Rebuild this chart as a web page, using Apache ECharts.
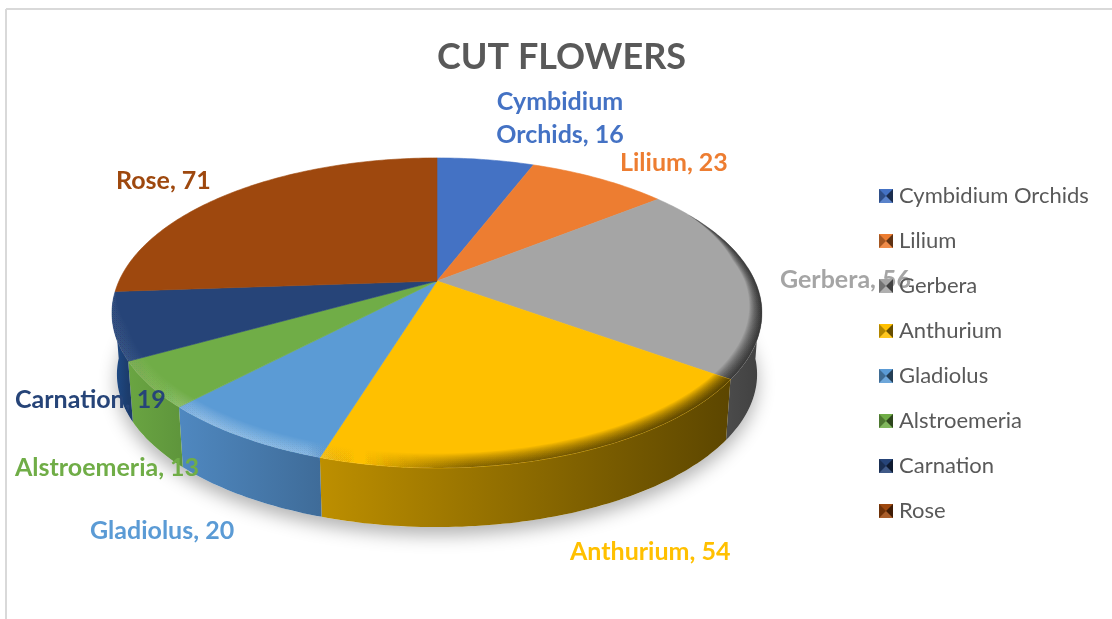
<!DOCTYPE html>
<html>
<head>
<meta charset="utf-8">
<title>CUT FLOWERS</title>
<script src="https://cdn.jsdelivr.net/npm/echarts@6/dist/echarts.min.js"></script>
<style>
html, body { margin: 0; padding: 0; background: #fff; }
#chart { width: 1112px; height: 619px; }
</style>
</head>
<body>
<div id="chart"></div>
<script>
// data
const flowerNames = ["Cymbidium Orchids", "Lilium", "Gerbera", "Anthurium", "Gladiolus", "Alstroemeria", "Carnation", "Rose"];
const flowerValues = [16, 23, 56, 54, 20, 13, 19, 71];

// colours
const topColors = ["#4472c4", "#ed7d31", "#a5a5a5", "#ffc000", "#5b9bd5", "#70ad47", "#264478", "#9e480e"];
const wallLeft = ["#30528c", "#a85822", "#4a4a4a", "#bd8f00", "#4f88c0", "#6aa542", "#1f4e8c", "#70330a"];
const wallRight = ["#30528c", "#a85822", "#404040", "#5c4600", "#3f6c99", "#5f963c", "#1c3c6c", "#70330a"];

// label anchors: [x, y, align]
const labelAnchors = [
    [560, 118, "center"], [620, 163, "left"], [780, 280, "left"], [570, 552, "left"],
    [90, 531, "left"], [15, 468, "left"], [15, 400, "left"], [116, 181, "left"]
];

// the tilted pie: a circle seen through a perspective, apex at (cx, cy)
const cx = 437, cy = 281, radA = 318, radB = 148.4, persp = -0.206;
const depth = 62, bottomScale = 0.985;
const total = flowerValues.reduce((a, b) => a + b, 0);

function project(angle, r, dy, scale) {
    const u = r * Math.sin(angle), v = -r * Math.cos(angle), w = 1 + persp * v;
    return [cx + radA * u / w * scale, cy + radB * v / w * scale + dy];
}

function startAngle(index) {
    let sum = 0;
    for (let i = 0; i < index; i++) sum += flowerValues[i];
    return sum / total * Math.PI * 2;
}

function samples(a0, a1) {
    const out = [];
    const n = Math.max(2, Math.ceil((a1 - a0) / (Math.PI / 180)));
    for (let i = 0; i <= n; i++) out.push(a0 + (a1 - a0) * i / n);
    return out;
}

function hGradient(stops) {
    return { type: "linear", x: 112, y: 0, x2: 762, y2: 0, global: true, colorStops: stops };
}

// rim bevel: wider at the front, gone at the back, reaches further back on the right
function bevelWidth(angle) {
    const u = Math.sin(angle), v = -Math.cos(angle);
    const from = u > 0 ? -0.5 : 0.05, span = u > 0 ? 0.35 : 0.25;
    const taper = Math.max(0, Math.min(1, (v - from) / span));
    return taper * (0.032 + 0.03 * Math.max(v, 0));
}

function renderSlice(index) {
    return function (params, api) {
        const a0 = startAngle(index);
        const a1 = a0 + api.value(0) / total * Math.PI * 2;
        const angles = samples(a0, a1);
        const children = [];

        // side wall, front part only
        const front = angles.filter(a => -Math.cos(a) > 0.1);
        if (front.length > 1) {
            const pts = front.map(a => project(a, 1, 0, 1));
            const low = front.slice().reverse().map(a => project(a, 1, depth, bottomScale));
            const xs = pts.map(p => p[0]);
            children.push({
                type: "polygon",
                shape: { points: pts.concat(low) },
                style: {
                    fill: {
                        type: "linear", global: true, y: 0, y2: 0,
                        x: Math.min.apply(null, xs), x2: Math.max.apply(null, xs),
                        colorStops: [{ offset: 0, color: wallLeft[index] }, { offset: 1, color: wallRight[index] }]
                    }
                }
            });
        }

        // top face
        children.push({
            type: "polygon",
            shape: { points: [[cx, cy]].concat(angles.map(a => project(a, 1, 0, 1))) },
            style: { fill: topColors[index], stroke: topColors[index], lineWidth: 0.6 }
        });

        // bevel: stacked see-through bands getting narrower towards the rim
        const bands = 16;
        for (let j = 1; j <= bands; j++) {
            const part = j / bands;
            const outer = angles.map(a => project(a, 1, 0, 1));
            const inner = angles.slice().reverse().map(a => project(a, 1 - bevelWidth(a) * part, 0, 1));
            children.push({
                type: "polygon",
                shape: { points: outer.concat(inner) },
                style: {
                    fill: hGradient([
                        { offset: 0, color: "rgba(255,255,255,0.004)" },
                        { offset: 0.08, color: "rgba(255,255,255,0.008)" },
                        { offset: 0.14, color: "rgba(255,255,255,0.022)" },
                        { offset: 0.3, color: "rgba(255,255,255,0.018)" },
                        { offset: 0.38, color: "rgba(0,0,0,0.0)" },
                        { offset: 0.55, color: "rgba(0,0,0,0.04)" },
                        { offset: 1, color: "rgba(0,0,0,0.065)" }
                    ])
                }
            });
        }
        return { type: "group", children: children };
    };
}

function renderShadow() {
    const ring = samples(0, Math.PI * 2).map(a => project(a, 1, depth, bottomScale));
    return {
        type: "polygon",
        shape: { points: ring },
        style: { fill: "#fff", shadowBlur: 18, shadowOffsetY: 8, shadowColor: "rgba(0,0,0,0.3)" }
    };
}

const series = [{
    name: "pieShadow", type: "custom", coordinateSystem: "none", silent: true, z: 1,
    renderItem: renderShadow, data: [[total]]
}];
flowerNames.forEach((name, i) => {
    series.push({
        name: name, type: "custom", coordinateSystem: "none", silent: true, z: 2,
        itemStyle: { color: topColors[i] },
        renderItem: renderSlice(i),
        data: [[flowerValues[i]]]
    });
});

// data labels
const labelFont = "Lato, sans-serif";
const graphics = flowerNames.map((name, i) => {
    let text = name + ", " + flowerValues[i];
    if (i === 0) text = "Cymbidium\nOrchids, " + flowerValues[i];
    return {
        type: "text", z: 3, silent: true,
        x: labelAnchors[i][0], y: labelAnchors[i][1],
        style: {
            text: text, fill: topColors[i],
            font: "bold 25px " + labelFont,
            lineHeight: 33,
            align: labelAnchors[i][2], verticalAlign: "middle"
        }
    };
});

// chart frame
graphics.push({ type: "line", z: 0, silent: true, shape: { x1: 6, y1: 9, x2: 1112, y2: 9 }, style: { stroke: "#d9d9d9", lineWidth: 2 } });
graphics.push({ type: "line", z: 0, silent: true, shape: { x1: 6, y1: 9, x2: 6, y2: 619 }, style: { stroke: "#d9d9d9", lineWidth: 2 } });

// bevelled legend keys, laid over the legend's own squares
const keyX = 879, keySize = 14, keyTop = 189, keyPitch = 45;
flowerNames.forEach((name, i) => {
    const x = keyX, y = keyTop + keyPitch * i, s = keySize, mx = x + s / 2, my = y + s / 2;
    [
        [[[x, y], [mx, my], [x, y + s]], "rgba(0,0,0,0.3)"],
        [[[x + s, y], [mx, my], [x + s, y + s]], "rgba(0,0,0,0.6)"],
        [[[x, y + s], [mx, my], [x + s, y + s]], "rgba(255,255,255,0.12)"]
    ].forEach(t => {
        graphics.push({ type: "polygon", z: 6, silent: true, shape: { points: t[0] }, style: { fill: t[1] } });
    });
});

const option = {
    animation: false,
    title: {
        text: "CUT FLOWERS",
        left: 437, top: 39,
        padding: 0,
        textStyle: { fontFamily: labelFont, fontWeight: "bold", fontSize: 36, color: "#595959" }
    },
    legend: {
        data: flowerNames,
        orient: "vertical",
        left: keyX, top: 185,
        padding: 0,
        itemWidth: keySize, itemHeight: keySize,
        itemGap: 23,
        icon: "rect",
        selectedMode: false,
        z: 5,
        textStyle: { fontFamily: labelFont, fontSize: 22, lineHeight: 20, color: "#595959", padding: [0, 0, 0, 1] }
    },
    graphic: graphics,
    series: series
};

const chart = echarts.init(document.getElementById("chart"));
chart.setOption(option);
</script>
</body>
</html>
